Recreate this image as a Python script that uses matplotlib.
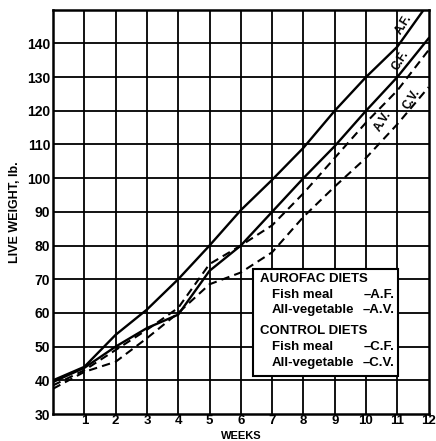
import numpy as np
import matplotlib
matplotlib.use("Agg")
import matplotlib.pyplot as plt

# live weight (lb) per week
weeks = np.arange(0, 13)
af = [40, 44, 53.5, 61, 70, 80, 90.5, 99.5, 109, 120, 130, 139, 152]
cf = [39.5, 43.7, 50, 55.5, 59.5, 72.5, 80, 90, 100, 109.5, 120, 130, 141.5]
av = [38.5, 43, 49, 55, 61.5, 74.5, 80, 86, 95.5, 106, 116.5, 126, 138]
cv = [37.5, 42.5, 45.5, 52.5, 60, 68.5, 72, 78, 88.5, 97.5, 106, 116, 127]

x_ticks = list(range(1, 13))
y_ticks = list(range(30, 150, 10))

plt.rcParams['font.family'] = ['Liberation Sans', 'DejaVu Sans']
plt.rcParams['font.weight'] = 'bold'

fig = plt.figure(figsize=(4.36, 4.41), dpi=100)
ax = fig.add_axes([0.1216, 0.0612, 0.8614, 0.9168])

# grid first so the curves sit on top
for w in range(1, 12):
    ax.axvline(w, color='black', lw=1.3, zorder=1)
for v in range(40, 150, 10):
    ax.axhline(v, color='black', lw=1.3, zorder=1)

ax.plot(weeks, af, color='black', lw=1.7, zorder=3)
ax.plot(weeks, cf, color='black', lw=1.7, zorder=3)
ax.plot(weeks, av, color='black', lw=1.5, ls=(0, (4, 2.5)), zorder=3)
ax.plot(weeks, cv, color='black', lw=1.5, ls=(0, (4, 2.5)), zorder=3)

ax.set_xlim(0, 12)
ax.set_ylim(30, 150)
ax.set_xticks(x_ticks)
ax.set_yticks(y_ticks)
ax.tick_params(axis='y', length=0, pad=2, labelsize=10)
ax.tick_params(axis='x', length=0, pad=0.5, labelsize=9.5)
for s in ax.spines.values():
    s.set_linewidth(1.8)

ax.set_xlabel('WEEKS', fontsize=8, fontweight='bold', va='center')
ax.xaxis.set_label_coords(0.5, -0.054)
ax.set_ylabel('LIVE WEIGHT, lb.', fontsize=9, fontweight='bold', labelpad=4)

# direct labels along the lines
lab = dict(fontsize=8.5, fontweight='bold', rotation=58, ha='center', va='center', zorder=4)
ax.text(11.2, 145.5, 'A.F.', **lab)
ax.text(11.1, 135, 'C.F.', **lab)
ax.text(10.55, 117, 'A.V.', **lab)
ax.text(11.45, 123.5, 'C.V.', **lab)

# legend box
ax.add_patch(plt.Rectangle((6.39, 41.3), 4.63, 31.6, facecolor='white',
                           edgecolor='black', lw=1.5, zorder=5))
hdr = dict(fontsize=9.5, fontweight='bold', va='center', zorder=6)
ax.text(6.6, 70.0, 'AUROFAC DIETS', **hdr)
ax.text(6.6, 54.5, 'CONTROL DIETS', **hdr)
rows = [(65.2, 'Fish meal', '\u2013A.F.'),
        (61.0, 'All-vegetable', '\u2013A.V.'),
        (50.0, 'Fish meal', '\u2013C.F.'),
        (45.0, 'All-vegetable', '\u2013C.V.')]
for y, left, right in rows:
    ax.text(6.99, y, left, ha='left', **hdr)
    ax.text(10.9, y, right, ha='right', **hdr)

fig.savefig('out.png', dpi=100)
